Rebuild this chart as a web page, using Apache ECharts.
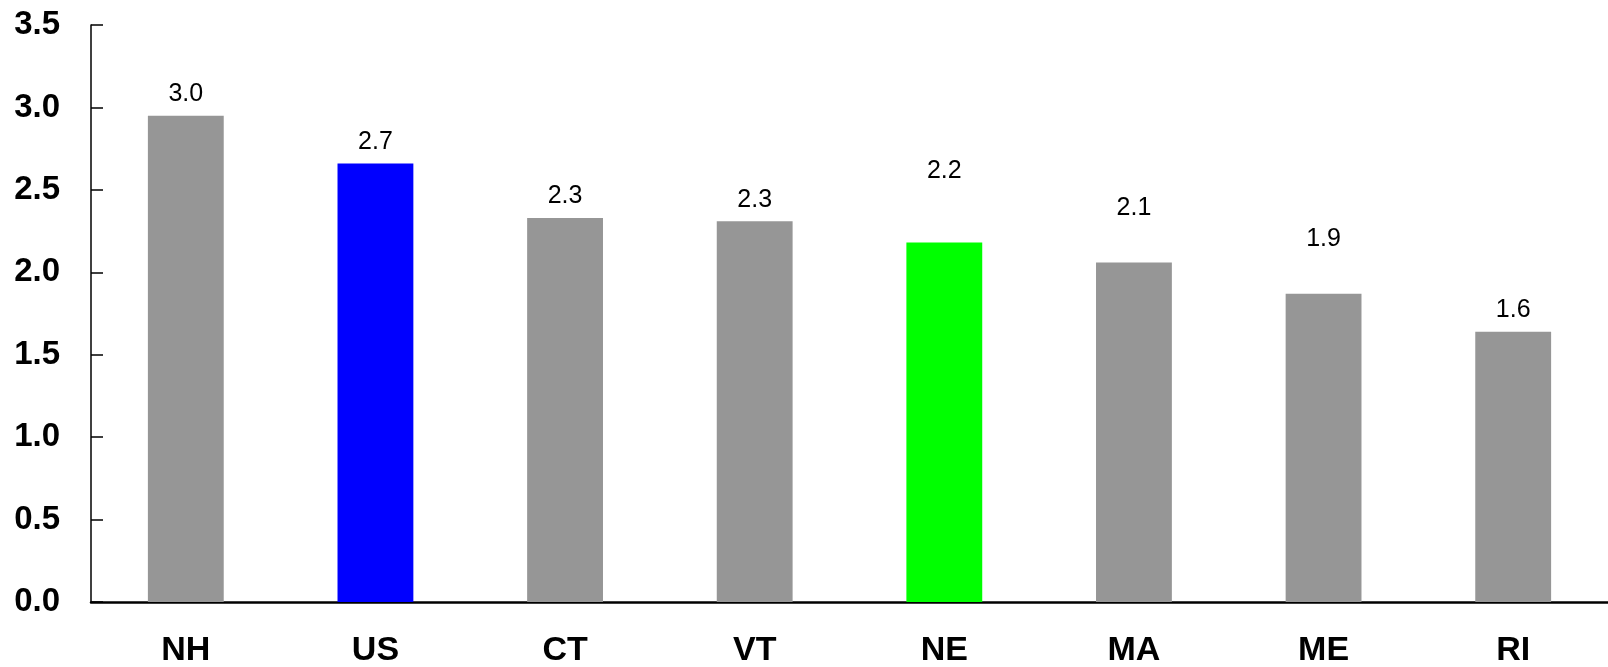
<!DOCTYPE html>
<html>
<head>
<meta charset="utf-8">
<script src="https://cdn.jsdelivr.net/npm/echarts@6/dist/echarts.min.js"></script>
<style>
  html, body { margin: 0; padding: 0; background: #fff; }
  #main { width: 1608px; height: 667px; }
</style>
</head>
<body>
<div id="main"></div>
<script>
// states, sorted high to low
const states = ['NH', 'US', 'CT', 'VT', 'NE', 'MA', 'ME', 'RI'];
const values = [2.95, 2.66, 2.33, 2.31, 2.18, 2.06, 1.87, 1.64];
const labels = ['3.0', '2.7', '2.3', '2.3', '2.2', '2.1', '1.9', '1.6'];
const yTicks = [0, 0.5, 1.0, 1.5, 2.0, 2.5, 3.0, 3.5];

const chart = echarts.init(document.getElementById('main'), null, { renderer: 'canvas' });

// US and NE highlighted, others gray
const barColors = { US: '#0000ff', NE: '#00ff00' };
// some labels float higher above the bar, like in the original
const labelLift = [0, 0, 0, 0, 50, 33, 33, 0];

let option = {
  animation: false,
  textStyle: { fontFamily: 'Liberation Sans, Arial, sans-serif' },
  grid: {
    left: 91,
    right: 0,
    top: 25,
    bottom: 65,
    outerBoundsMode: 'none'
  },
  xAxis: {
    type: 'category',
    data: states,
    axisLine: { lineStyle: { color: '#000', width: 2.5 } },
    axisTick: { show: false },
    axisLabel: {
      color: '#000',
      fontSize: 34,
      fontWeight: 'bold',
      margin: 32
    }
  },
  yAxis: {
    type: 'value',
    min: yTicks[0],
    max: yTicks[yTicks.length - 1],
    interval: 0.5,
    axisLine: { show: true, lineStyle: { color: '#000', width: 1.5 } },
    axisTick: { show: true, inside: true, length: 12, lineStyle: { color: '#000', width: 1.5 } },
    axisLabel: {
      color: '#000',
      fontSize: 33,
      fontWeight: 'bold',
      margin: 31,
      formatter: (v) => v.toFixed(1)
    },
    splitLine: { show: false }
  },
  series: [
    {
      type: 'bar',
      barWidth: '40%',
      data: values.map((v, i) => ({
        value: v,
        itemStyle: { color: barColors[states[i]] || '#969696' },
        label: {
          show: true,
          position: 'top',
          distance: 9 + labelLift[i],
          formatter: labels[i],
          color: '#000',
          fontSize: 25
        }
      }))
    }
  ]
};
chart.setOption(option);
</script>
</body>
</html>
